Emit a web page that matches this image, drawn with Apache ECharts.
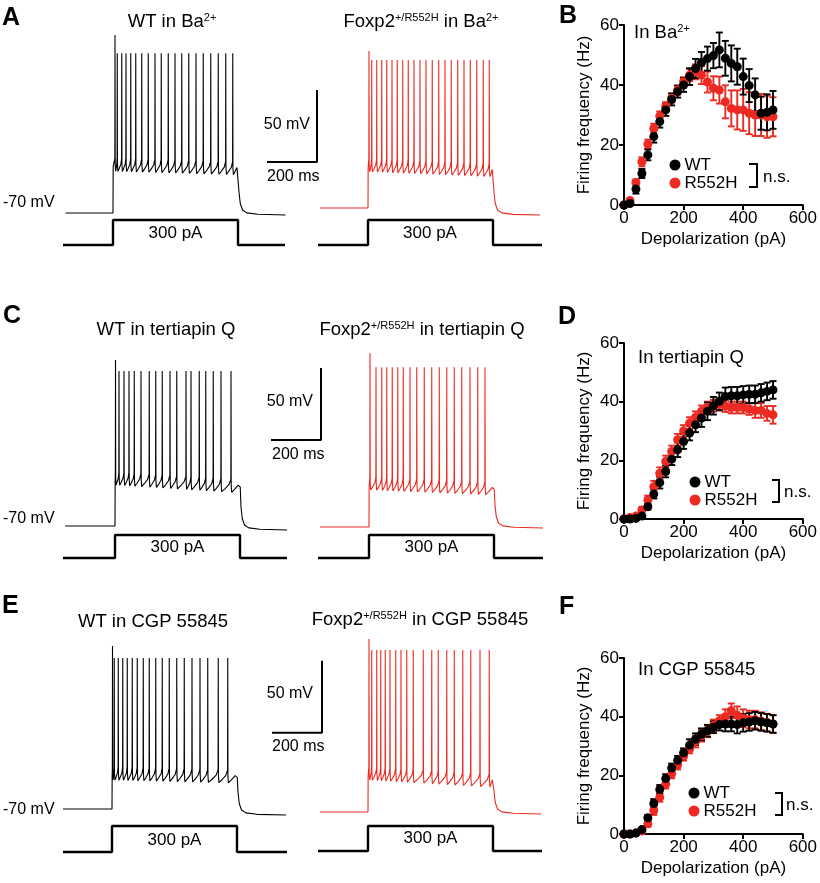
<!DOCTYPE html>
<html><head><meta charset="utf-8">
<script src="https://cdn.jsdelivr.net/npm/echarts@6/dist/echarts.min.js"></script>
<style>html,body{margin:0;padding:0;background:#fff}#c{width:820px;height:883px}</style>
</head><body><div id="c"></div>
<script>
const FONT = 'Liberation Sans, Arial, Helvetica, sans-serif';
const RED = '#ec2a22';
// ---------- F-I data ----------
const depol = [0,20,40,60,80,100,120,140,160,180,200,220,240,260,280,300,320,340,360,380,400,420,440,460,480,500];
const bWt     = [0,0.5,5.3,10.5,16.7,22.8,27.8,31.7,35.2,37.8,40,42.8,45.5,47.5,48.8,49.8,51.7,48.9,47.2,46.1,42.8,39.8,36.7,30.6,30.9,31.7];
const bWtErr  = [0,0.5,1.5,1.5,1.8,2,2,2,2,2,2.3,2.8,3.2,3.5,4,4.2,5.8,5.8,6,6,6,5.5,5.5,5.5,6,6.3];
const bMut    = [0,1.5,7.5,14.4,20.3,25.6,29.7,32.8,35.6,38.3,41.1,43.3,44.4,43.3,41,38.9,38.3,34.4,32.2,31.7,31.7,30.6,30,30,29.4,29.4];
const bMutErr = [0,0.5,1,1.5,1.5,1.5,1.5,1.5,1.5,1.5,1.5,2,2.5,3,3.5,4,4.5,5.5,6,6.5,7,7,7,7,7,6.5];
const dWt     = [0,0,0.2,1,4.2,8.5,12.4,16.2,20.4,23.6,26.4,29.3,32.1,34.4,36.7,38.6,40.1,41.8,42,42,42.3,42.5,42.5,43,43.5,44];
const dWtErr  = [0,0,0.3,0.5,1,1.5,2,2,2,2.5,2.5,2.5,2.5,3,3,3,3,3,3,3,3,3,3,3,3,3];
const dMut    = [0,0.5,1,3.1,6.5,11,15.6,19.6,23,27,30,32.7,34.7,36.7,38,38.6,39,38.5,38,38,38,37.5,37,37,36,35.5];
const dMutErr = [0,0.3,0.5,1,1.5,2,2,2,2,2,2,2,2,2,2,2,2,2,2,2,2,2,2.5,2.5,2.5,3];
const fWt     = [0,0,0.3,1.5,5.5,10.4,15.2,18.9,22.5,25.1,27.7,30.3,32.3,34,35.2,36.4,37.3,37.5,37.5,37.3,37.9,38.2,38.6,38.2,37.9,37.5];
const fWtErr  = [0,0,0.3,0.5,1,1.5,1.5,1.5,1.5,1.5,1.5,2,2,2,2,2,2,2.5,2.5,3,3,3,3,3,3,3];
const fMut    = [0,0,0.3,1,3.5,8,12.5,17,20.5,23.5,26.5,29,31.5,33.5,35,37,38.5,40,42,40.5,39.5,39,39,38.5,38,37.5];
const fMutErr = [0,0,0.3,0.5,1,1.5,1.5,1.5,1.5,1.5,1.5,1.5,2,2,2,2,2,2.5,2.5,3,3,3,3,3,3,3];
// ---------- trace data (spike times in ms after step onset, levels in mV) ----------
const aWtSpikes  = [8,17,35,52,71,91,115,141,168,193,221,248,275,303,332,361,391,421,451,479];
const aMutSpikes = [4,15,35,55,75,96,117,139,161,184,208,232,257,283,308,333,359,384,409,435,461,485];
const cWtSpikes  = [2,16,36,56,77,104,137,163,189,220,247,284,304,337,363,393,424,464];
const cMutSpikes = [4,28,51,71,93,115,137,164,191,221,251,281,311,341,371,404,435,464];
const eWtSpikes  = [2,9,25,43,61,81,101,125,149,175,201,229,259,289,320,352,383,425,463];
const eMutSpikes = [4,15,35,51,69,88,111,132,155,181,221,255,281,315,345,379,411,448,485];
// [first spike peak, spike peak, plateau trough start, plateau trough end, baseline start, baseline end]
const aWtLevels  = [53.6,41,-41,-43.5,-70,-71.4];
const aMutLevels = [39,32.8,-44.8,-48.3,-70,-74.9];
const cWtLevels  = [45.3,37.6,-41.5,-47,-70,-72.8];
const cMutLevels = [50.8,41,-44.3,-47.8,-70,-70.7];
const eWtLevels  = [43.2,34.9,-49.9,-52,-70,-74.2];
const eMutLevels = [50.1,42.5,-47.8,-52.8,-70,-71.4];
const stepAmp = 300;     // pA
const stepDur = 500;     // ms
const scaleMV = 50, scaleMS = 200;

const grids = [], xAxes = [], yAxes = [], series = [], graphics = [];
function addGrid(g, xa, ya) {
  grids.push(g); const i = grids.length - 1;
  xAxes.push(Object.assign({gridIndex: i}, xa));
  yAxes.push(Object.assign({gridIndex: i}, ya));
  return i;
}
function buildTrace(sp, lv, t0, t1) {
  const [p1, pk, trS, trE, bS, bE] = lv;
  const tr = t => trS + (trE - trS) * t / stepDur;
  const pts = [[t0, bS], [0, bS], [0.6, tr(0) + 3]];
  for (let i = 0; i < sp.length; i++) {
    const t = sp[i], v = tr(t);
    const nxt = i < sp.length - 1 ? sp[i + 1] : stepDur;
    pts.push([t - 0.6, v + 9], [t, i === 0 ? p1 : pk], [t + 0.8, v + 5], [t + 2.6, v]);
    const gap = nxt - t - 3.2;
    if (gap > 4) pts.push([t + 2.6 + gap * 0.35, v + 2], [t + 2.6 + gap * 0.8, v + 5]);
  }
  const ve = tr(stepDur);
  pts.push([stepDur - 1, ve + 6], [stepDur + 1, ve + 4], [stepDur + 4, bE + 16], [stepDur + 9, bE + 8],
           [stepDur + 18, bE + 3.5], [stepDur + 35, bE + 1.5], [stepDur + 80, bE + 0.5], [t1, bE]);
  return pts;
}
function traceGrid(onsetX, baseY, sp, lv, color, t0, t1) {
  const gi = addGrid({left: onsetX - 50, top: baseY - 187.2, width: 275, height: 201.6},
    {type: 'value', min: -200, max: 900, show: false},
    {type: 'value', min: -80, max: 60, show: false});
  series.push({type: 'line', xAxisIndex: gi, yAxisIndex: gi, data: buildTrace(sp, lv, t0, t1),
    showSymbol: false, silent: true, lineStyle: {color, width: 1.1}, animation: false});
  return gi;
}
function stepGrid(onsetX, topY, botY, t0, t1) {
  const gi = addGrid({left: onsetX - 50, top: topY, width: 275, height: botY - topY},
    {type: 'value', min: -200, max: 900, show: false},
    {type: 'value', min: 0, max: stepAmp, show: false});
  series.push({type: 'line', xAxisIndex: gi, yAxisIndex: gi,
    data: [[t0, 0], [0, 0], [0, stepAmp], [stepDur, stepAmp], [stepDur, 0], [t1, 0]],
    showSymbol: false, silent: true, clip: false, lineStyle: {color: '#000', width: 2.4}, animation: false});
}
function scaleBar(gi, tRight, vBottom) {
  series.push({type: 'line', xAxisIndex: gi, yAxisIndex: gi,
    data: [[tRight - scaleMS, vBottom], [tRight, vBottom], [tRight, vBottom + scaleMV]],
    showSymbol: false, silent: true, lineStyle: {color: '#000', width: 2}, animation: false});
}
// Row A
let g = traceGrid(113, 213, aWtSpikes, aWtLevels, '#000', -190, 690);
scaleBar(g, 816, -34.6);
traceGrid(368, 208, aMutSpikes, aMutLevels, RED, -192, 688);
stepGrid(113, 220, 245, -200, 688);
stepGrid(368, 220, 245, -200, 696);
// Row C
g = traceGrid(115, 526, cWtSpikes, cWtLevels, '#000', -200, 688);
scaleBar(g, 824, -10.3);
traceGrid(369, 527, cMutSpikes, cMutLevels, RED, -196, 696);
stepGrid(115, 535, 558, -208, 688);
stepGrid(369, 535, 558, -204, 696);
// Row E
g = traceGrid(112, 809, eWtSpikes, eWtLevels, '#000', -196, 696);
scaleBar(g, 840, -17);
traceGrid(368, 812, eMutSpikes, eMutLevels, RED, -192, 692);
stepGrid(112, 826, 852, -196, 700);
stepGrid(368, 826, 851, -200, 696);

// ---------- F-I plots ----------
function errSeries(gi, vals, errs, color, name) {
  series.push({type: 'custom', name, xAxisIndex: gi, yAxisIndex: gi, silent: true, animation: false,
    data: depol.map((d, i) => [d, vals[i], errs[i]]),
    encode: {x: 0, y: 1},
    renderItem: function (params, api) {
      const x = api.value(0), y = api.value(1), e = api.value(2);
      const a = api.coord([x, y + e]), b = api.coord([x, y - e]);
      const hw = 3.5, st = {stroke: color, lineWidth: 1.9};
      return {type: 'group', children: [
        {type: 'line', shape: {x1: a[0], y1: a[1], x2: b[0], y2: b[1]}, style: st},
        {type: 'line', shape: {x1: a[0] - hw, y1: a[1], x2: a[0] + hw, y2: a[1]}, style: st},
        {type: 'line', shape: {x1: b[0] - hw, y1: b[1], x2: b[0] + hw, y2: b[1]}, style: st}
      ]};
    }});
}
function fiPlot(top, height, wt, wtE, mut, mutE) {
  const ax = {axisLine: {lineStyle: {color: '#000', width: 2}}, axisTick: {inside: false, length: 5, lineStyle: {color: '#000', width: 2}},
    axisLabel: {color: '#000', fontSize: 17, fontFamily: FONT, margin: 5}, splitLine: {show: false},
    nameTextStyle: {color: '#000', fontSize: 17, fontFamily: FONT}};
  const gi = addGrid({left: 624, top, width: 181, height},
    Object.assign({type: 'value', min: 0, max: 600, interval: 200, name: 'Depolarization (pA)', nameLocation: 'middle', nameGap: 26}, ax),
    Object.assign({type: 'value', min: 0, max: 60, interval: 20, name: 'Firing frequency (Hz)', nameLocation: 'middle', nameGap: 31}, ax));
  errSeries(gi, mut, mutE, RED, 'R552H err');
  series.push({type: 'scatter', name: 'R552H', xAxisIndex: gi, yAxisIndex: gi, symbolSize: 9, itemStyle: {color: RED, opacity: 1}, animation: false,
    data: depol.map((d, i) => [d, mut[i]]), clip: false});
  errSeries(gi, wt, wtE, '#000', 'WT err');
  series.push({type: 'scatter', name: 'WT', xAxisIndex: gi, yAxisIndex: gi, symbolSize: 9, itemStyle: {color: '#000', opacity: 1}, animation: false,
    data: depol.map((d, i) => [d, wt[i]]), clip: false});
}
fiPlot(25, 180, bWt, bWtErr, bMut, bMutErr);
fiPlot(343, 176, dWt, dWtErr, dMut, dMutErr);
fiPlot(658, 176, fWt, fWtErr, fMut, fMutErr);

function legend(left, top) {
  return {left, top, orient: 'vertical', icon: 'circle', itemWidth: 11, itemHeight: 11, itemGap: 1,
    selectedMode: false, data: ['WT', 'R552H'], padding: 0, itemStyle: {opacity: 1},
    textStyle: {color: '#000', fontSize: 17, fontFamily: FONT, lineHeight: 17, padding: [0, 0, 0, -1]}};
}
const legends = [legend(669.5, 156.5), legend(689.5, 473.5), legend(688.5, 784.5)];

// ---------- text & annotations ----------
const SUP = {sup: {fontSize: 11, lineHeight: 10, verticalAlign: 'top', fontFamily: FONT, fill: '#000'}};
function txt(x, y, text, o) {
  o = o || {};
  return {type: 'text', x, y, silent: true, z: 10, style: {text, fill: '#000', fontSize: o.size || 17, fontFamily: FONT,
    fontWeight: o.weight || 'normal', align: o.align || 'left', textAlign: o.align || 'left',
    verticalAlign: 'middle', textVerticalAlign: 'middle', lineHeight: o.lh || undefined, rich: o.rich}};
}
function bracket(xv, x0, y0, y1) {
  return {type: 'polyline', silent: true, shape: {points: [[x0, y0], [xv, y0], [xv, y1], [x0, y1]]},
    style: {stroke: '#000', lineWidth: 2, fill: null}};
}
const T = {size: 18.5, align: 'center', lh: 20, rich: SUP};
graphics.push(
  txt(2, 18, 'A', {size: 25, weight: 'bold'}),
  txt(172, 22, 'WT in Ba{sup|2+}', T),
  txt(421, 22, 'Foxp2{sup|+/R552H} in Ba{sup|2+}', T),
  txt(3, 203, '-70 mV', {size: 16}),
  txt(310, 125, '50 mV', {size: 16, align: 'right'}),
  txt(267, 177, '200 ms', {size: 16}),
  txt(175.5, 233, '300 pA', {size: 17, align: 'center'}),
  txt(430, 233, '300 pA', {size: 17, align: 'center'}),
  txt(559, 16, 'B', {size: 25, weight: 'bold'}),
  txt(634, 33, 'In Ba{sup|2+}', {size: 18.5, lh: 20, rich: SUP}),

  txt(3, 316, 'C', {size: 25, weight: 'bold'}),
  txt(166, 330, 'WT in tertiapin Q', T),
  txt(422, 330, 'Foxp2{sup|+/R552H} in tertiapin Q', T),
  txt(3, 519, '-70 mV', {size: 16}),
  txt(313, 402, '50 mV', {size: 16, align: 'right'}),
  txt(272, 455, '200 ms', {size: 16}),
  txt(177.5, 547, '300 pA', {size: 17, align: 'center'}),
  txt(431.5, 547, '300 pA', {size: 17, align: 'center'}),
  txt(558, 317, 'D', {size: 25, weight: 'bold'}),
  txt(638, 358, 'In tertiapin Q', {size: 18.5}),

  txt(2, 606, 'E', {size: 25, weight: 'bold'}),
  txt(153, 622, 'WT in CGP 55845', T),
  txt(420, 620, 'Foxp2{sup|+/R552H} in CGP 55845', T),
  txt(3, 810, '-70 mV', {size: 16}),
  txt(313, 694, '50 mV', {size: 16, align: 'right'}),
  txt(272, 747, '200 ms', {size: 16}),
  txt(174.5, 840, '300 pA', {size: 17, align: 'center'}),
  txt(430.5, 838, '300 pA', {size: 17, align: 'center'}),
  txt(559, 607, 'F', {size: 25, weight: 'bold'}),
  txt(638, 670, 'In CGP 55845', {size: 18.5}),

  bracket(757, 749, 164, 187), txt(763, 177, 'n.s.', {size: 17}),
  bracket(779, 772, 480, 502), txt(784, 492, 'n.s.', {size: 17}),
  bracket(782, 775, 793, 815), txt(786, 805, 'n.s.', {size: 17})
);

const chart = echarts.init(document.getElementById('c'), null, {renderer: 'canvas'});
chart.setOption({
  backgroundColor: '#fff', animation: false,
  grid: grids, xAxis: xAxes, yAxis: yAxes, series, legend: legends, graphic: graphics
});
</script></body></html>
